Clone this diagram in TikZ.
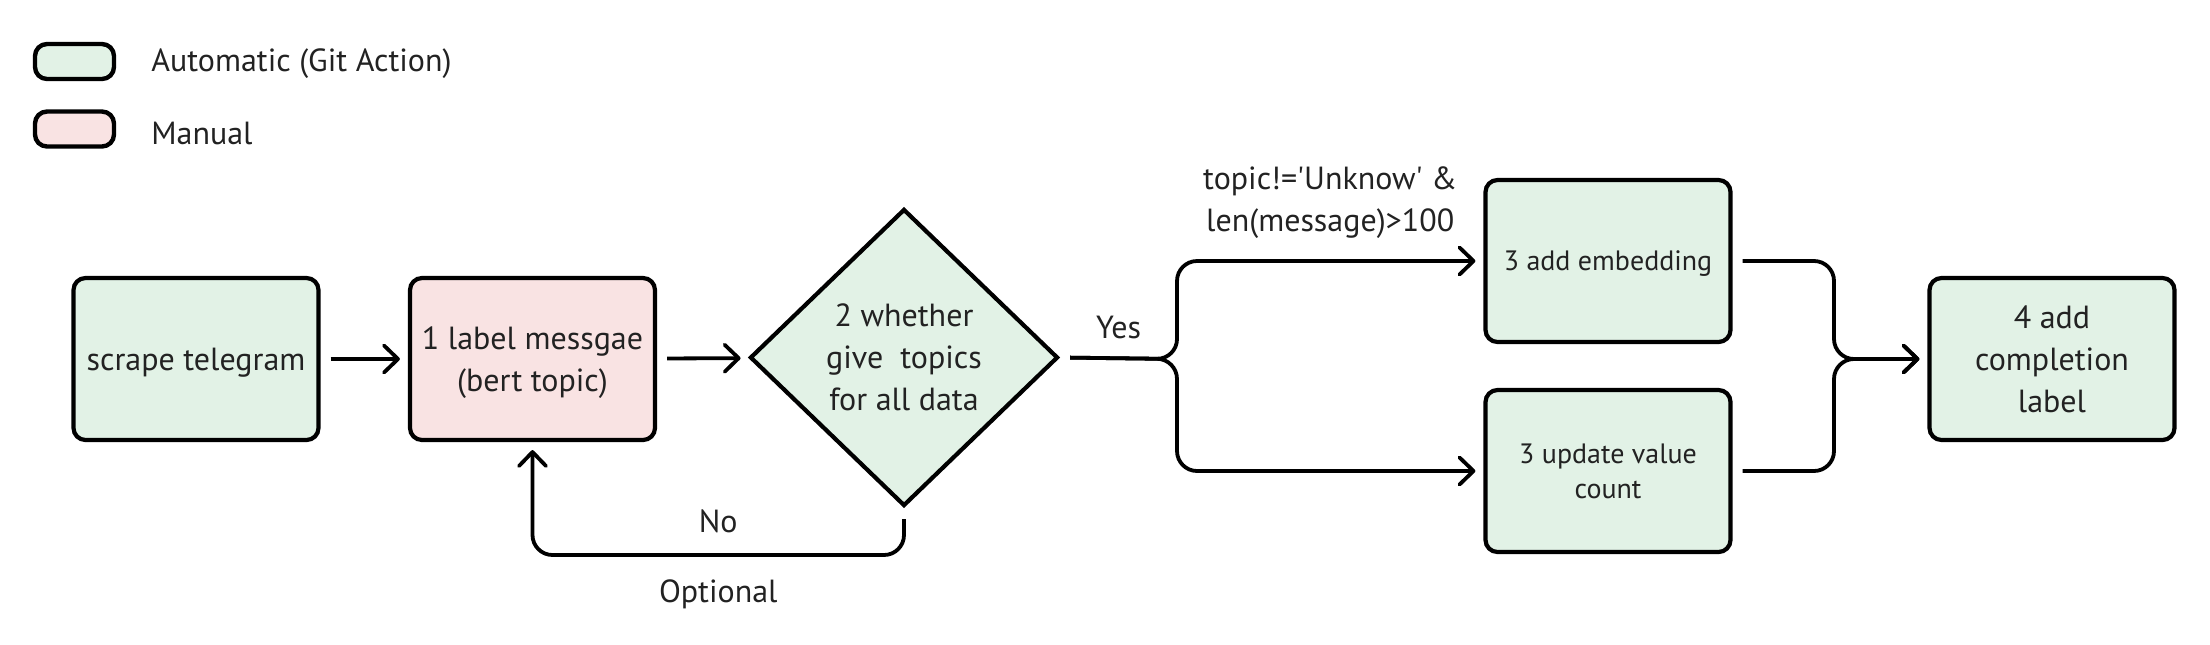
\documentclass[tikz,border=0pt]{standalone}
\usepackage{fontspec}
\setmainfont{PT Sans}
\usetikzlibrary{arrows.meta, shapes.geometric}

\definecolor{autogreen}{HTML}{E2F2E6}
\definecolor{manualpink}{HTML}{F9E3E3}
\definecolor{inkgray}{HTML}{222222}

\begin{document}
\begin{tikzpicture}[x=0.5pt, y=-0.5pt,
        every node/.style={text=inkgray, font=\fontsize{16pt}{21pt}\selectfont},
        stepbox/.style={draw=black, line width=2.1pt, rounded corners=6pt, minimum width=122.5pt, minimum height=81pt, inner sep=0pt, align=center, text depth=0pt},
        greenbox/.style={stepbox, fill=autogreen},
        pinkbox/.style={stepbox, fill=manualpink},
        smalltext/.style={font=\fontsize{14pt}{17.5pt}\selectfont},
        legendbox/.style={draw=black, line width=2.2pt, rounded corners=6pt, minimum width=39.5pt, minimum height=17.5pt, inner sep=0pt},
        decision/.style={diamond, draw=black, line width=2.1pt, fill=autogreen, minimum width=154pt, minimum height=148.5pt, inner sep=0pt, align=center, text depth=0pt},
        conn/.style={draw=black, line width=1.9pt, line join=round, -{Straight Barb[length=7pt, width=13.5pt, round]}, shorten <=5pt, shorten >=4pt}]
        \useasboundingbox (0,0) rectangle (2210,644);

        \node[legendbox, fill=autogreen] (legauto) at (74.5,61.5) {};
        \node[anchor=west, inner sep=0pt] (legautotext) at (151,64) {Automatic (Git Action)};
        \node[legendbox, fill=manualpink] (legmanual) at (74.5,129) {};
        \node[anchor=west, inner sep=0pt] (legmanualtext) at (151,133) {Manual};

        \node[greenbox] (scrape) at (196,359) {scrape telegram};
        \node[pinkbox] (labelmsg) at (532.5,359) {1 label messgae\\(bert topic)};
        \node[decision] (whether) at (904,357.5) {2 whether\\give\ \ topics\\for all data};
        \node[greenbox, smalltext] (embed) at (1608,261) {3 add embedding};
        \node[greenbox, smalltext] (count) at (1608,471) {3 update value\\count};
        \node[greenbox] (complete) at (2052,359) {4 add\\completion\\label};

        \coordinate (split) at (1177,359);
        \coordinate (join) at (1834,359);
        \coordinate (loopbot) at (904,555);

        \draw[conn] (scrape) -- (labelmsg);
        \draw[conn] (labelmsg) -- (whether);
        \draw[conn, rounded corners=10pt] (whether.east) -- node[above=5.5pt] (yes) {Yes} (split) |- node[pos=0.75, above=7pt, align=center] (cond) {topic!=\textquotesingle Unknow\textquotesingle\ \&\\len(message)>100} (embed.west);
        \draw[conn, rounded corners=10pt] (whether.east) -- (split) |- (count.west);
        \draw[conn, rounded corners=10pt] (embed.east) -| (join) -- (complete.west);
        \draw[conn, rounded corners=10pt] (count.east) -| (join) -- (complete.west);
        \draw[conn, rounded corners=10pt, shorten <=5.5pt] (whether.south) -- (loopbot) -| node[pos=0.25, above=7pt] (no) {No} node[pos=0.25, below=8pt] (optional) {Optional} (labelmsg.south);

\end{tikzpicture}
\end{document}
